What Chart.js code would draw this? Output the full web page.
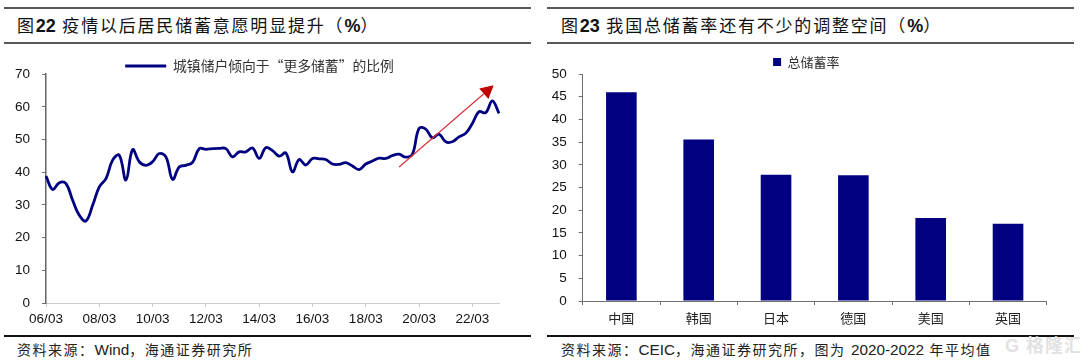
<!DOCTYPE html>
<html>
<head>
<meta charset="utf-8">
<script src="https://cdn.jsdelivr.net/npm/chart.js@4"></script>
<style>
body { margin: 0; background: #fff; width: 1080px; height: 362px; overflow: hidden; position: relative;
       font-family: "Liberation Sans", "Noto Sans CJK SC", sans-serif; color: #111; }
.rule { position: absolute; height: 2px; background: #595959; }
.rule.foot { height: 1.5px; background: #111; }
.title { position: absolute; top: 14px; font-size: 17px; letter-spacing: 1.8px; line-height: 24px; white-space: nowrap; }
.title b { font-size: 18px; letter-spacing: 0; }
.source { position: absolute; top: 341px; font-size: 14px; line-height: 18px; letter-spacing: 1.5px; white-space: nowrap; color: #222; }
.source span { font-size: 15.3px; letter-spacing: 0; }
.mark { position: absolute; left: 1005px; top: 335px; font-size: 18px; line-height: 22px; letter-spacing: 1px; font-weight: bold; color: #e2e2e2; white-space: nowrap; }
canvas { position: absolute; }
</style>
</head>
<body>
<div class="rule" style="left:4px;width:527px;top:7px"></div>
<div class="rule" style="left:4px;width:527px;top:42px"></div>
<div class="rule" style="left:547px;width:527px;top:7px"></div>
<div class="rule" style="left:547px;width:527px;top:42px"></div>
<div class="title" style="left:17px">图<b>22</b> 疫情以后居民储蓄意愿明显提升（<b>%</b>）</div>
<div class="title" style="left:561px">图<b>23</b> 我国总储蓄率还有不少的调整空间（<b>%</b>）</div>

<canvas id="lineChart" style="left:0;top:54px" width="520" height="277"></canvas>
<canvas id="barChart" style="left:540px;top:50px" width="532" height="279"></canvas>

<div class="rule foot" style="left:4px;width:527px;top:335px"></div>
<div class="rule foot" style="left:547px;width:527px;top:335px"></div>
<div class="source" style="left:17px">资料来源：<span>Wind</span>，海通证券研究所</div>
<div class="source" style="left:561px">资料来源：<span>CEIC</span>，海通证券研究所，图为 <span>2020-2022</span> 年平均值</div>
<div class="mark">G 格隆汇</div>

<script>
const quarters = [
    '06/03','06/06','06/09','06/12','07/03','07/06','07/09','07/12',
    '08/03','08/06','08/09','08/12','09/03','09/06','09/09','09/12',
    '10/03','10/06','10/09','10/12','11/03','11/06','11/09','11/12',
    '12/03','12/06','12/09','12/12','13/03','13/06','13/09','13/12',
    '14/03','14/06','14/09','14/12','15/03','15/06','15/09','15/12',
    '16/03','16/06','16/09','16/12','17/03','17/06','17/09','17/12',
    '18/03','18/06','18/09','18/12','19/03','19/06','19/09','19/12',
    '20/03','20/06','20/09','20/12','21/03','21/06','21/09','21/12',
    '22/03','22/06','22/09','22/12','23/03'
];
const savingShare = [
    38.8,34.7,36.8,36.5,31.4,26.8,25.1,29.9,
    35.5,38.0,43.7,45.2,37.6,46.9,43.2,42.1,
    43.2,45.7,44.7,37.8,41.6,42.1,43.0,47.2,
    47.0,47.2,47.3,47.2,44.7,46.2,46.2,47.4,
    44.2,47.5,46.6,44.9,45.9,40.1,43.9,42.2,
    44.2,44.1,43.9,42.5,42.4,42.9,41.9,40.8,
    42.5,43.4,44.3,44.2,45.1,45.5,44.6,45.5,
    53.4,53.2,50.5,51.6,49.3,49.3,50.8,51.9,
    54.9,58.5,58.2,61.8,58.0
];
const countries = ['中国','韩国','日本','德国','美国','英国'];
const savingRate = [46.0, 35.6, 27.8, 27.7, 18.3, 17.0];

// trend arrow, in axis units: [quarter index, value]
const arrowFrom = [53.0, 41.6];
const arrowTo = [67.2, 66.6];

const NAVY = '#000080';
const tickFont = { family: 'Liberation Sans', size: 13.5 };
const cjkFont = { family: 'Noto Sans CJK SC', size: 13 };

// legend sits tighter on the plot and off-centre in the original
function placeLegend(height, dx) {
    return {
        id: 'placeLegend',
        beforeLayout(chart) {
            const legend = chart.legend;
            if (legend.fit.wrapped) return;
            const fit = legend.fit;
            legend.fit = function () {
                fit.call(this);
                this.height = height;
            };
            legend.fit.wrapped = true;
        },
        afterLayout(chart) {
            chart.legend.left += dx;
            chart.legend.right += dx;
        }
    };
}

const trendArrow = {
    id: 'trendArrow',
    afterDatasetsDraw(chart) {
        const { ctx, scales: { x, y } } = chart;
        const x0 = x.getPixelForValue(arrowFrom[0]), y0 = y.getPixelForValue(arrowFrom[1]);
        const x1 = x.getPixelForValue(arrowTo[0]), y1 = y.getPixelForValue(arrowTo[1]);
        const a = Math.atan2(y1 - y0, x1 - x0);
        const len = 13, half = 7;
        const bx = x1 - len * Math.cos(a), by = y1 - len * Math.sin(a);
        ctx.save();
        ctx.strokeStyle = '#d8323c';
        ctx.lineWidth = 1.2;
        ctx.beginPath();
        ctx.moveTo(x0, y0);
        ctx.lineTo(bx, by);
        ctx.stroke();
        ctx.fillStyle = '#c00000';
        ctx.beginPath();
        ctx.moveTo(x1, y1);
        ctx.lineTo(bx + half * Math.sin(a), by - half * Math.cos(a));
        ctx.lineTo(bx - half * Math.sin(a), by + half * Math.cos(a));
        ctx.closePath();
        ctx.fill();
        ctx.restore();
    }
};

new Chart(document.getElementById('lineChart'), {
    type: 'line',
    data: {
        labels: quarters,
        datasets: [{
            label: '城镇储户倾向于“更多储蓄”的比例',
            data: savingShare,
            borderColor: NAVY,
            backgroundColor: NAVY,
            borderWidth: 2.8,
            pointRadius: 0,
            tension: 0.4
        }]
    },
    options: {
        responsive: false,
        animation: false,
        layout: { padding: { right: 21 } },
        plugins: {
            tooltip: { enabled: false },
            legend: {
                position: 'top',
                labels: { boxWidth: 41, boxHeight: 0, padding: 5, font: { family: 'Noto Sans CJK SC', size: 13.8 }, color: '#333' }
            }
        },
        scales: {
            x: {
                type: 'category',
                offset: false,
                afterBuildTicks: s => { s.ticks = s.ticks.filter((t, i) => i % 8 === 0); },
                afterFit: s => { s.height = 28; },
                grid: { drawOnChartArea: false, tickLength: 4, tickColor: '#c8c8c8' },
                border: { color: '#cccccc', width: 1 },
                ticks: { autoSkip: false, maxRotation: 0, minRotation: 0, padding: 4, font: tickFont, color: '#111' }
            },
            y: {
                min: 0,
                max: 70,
                afterFit: s => { s.width = 46; },
                grid: { drawOnChartArea: false, tickLength: 4, tickColor: '#707070' },
                border: { color: '#666666', width: 1.5 },
                ticks: { stepSize: 10, padding: 12, font: tickFont, color: '#111' }
            }
        }
    },
    plugins: [placeLegend(20, 10), trendArrow]
});

new Chart(document.getElementById('barChart'), {
    type: 'bar',
    data: {
        labels: countries,
        datasets: [{
            label: '总储蓄率',
            data: savingRate,
            backgroundColor: NAVY,
            categoryPercentage: 1,
            barPercentage: 0.396
        }]
    },
    options: {
        responsive: false,
        animation: false,
        layout: { padding: { right: 25.3 } },
        plugins: {
            tooltip: { enabled: false },
            legend: {
                position: 'top',
                labels: { boxWidth: 8, boxHeight: 8, padding: 5.5, font: cjkFont, color: '#333' }
            }
        },
        scales: {
            x: {
                offset: true,
                afterFit: s => { s.height = 28; },
                grid: { offset: true, drawOnChartArea: false, tickLength: 4, tickColor: '#707070' },
                border: { color: '#707070', width: 1 },
                ticks: { maxRotation: 0, minRotation: 0, padding: 5, font: cjkFont, color: '#222' }
            },
            y: {
                min: 0,
                max: 50,
                afterFit: s => { s.width = 42.7; },
                grid: { drawOnChartArea: false, tickLength: 4, tickColor: '#707070' },
                border: { color: '#707070', width: 1 },
                ticks: { stepSize: 5, padding: 12, font: tickFont, color: '#111' }
            }
        }
    },
    plugins: [placeLegend(24, 13)]
});
</script>
</body>
</html>
